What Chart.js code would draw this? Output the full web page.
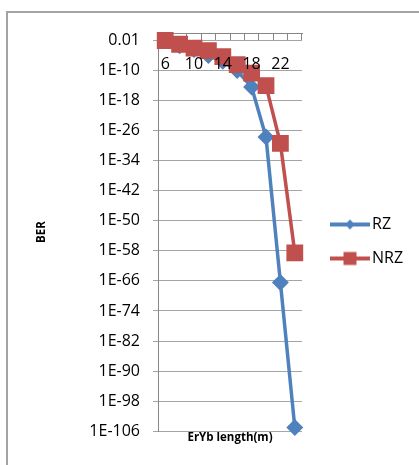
<!DOCTYPE html>
<html>
<head>
<meta charset="utf-8">
<script src="https://cdn.jsdelivr.net/npm/chart.js@4.4.0/dist/chart.umd.min.js"></script>
<style>
    html, body { margin: 0; padding: 0; background: #fff; overflow: hidden; }
    #frame {
        position: absolute; left: 6px; top: 11px; width: 430px; height: 470px;
        border-left: 2px solid #a3a3a3; border-top: 2px solid #a3a3a3;
    }
    #berChart { position: absolute; left: 0; top: 0; }
</style>
</head>
<body>
<div id="frame"></div>
<canvas id="berChart" width="419" height="465"></canvas>
<script>
// ErYb length (m) categories
const lengths = ['6', '8', '10', '12', '14', '16', '18', '20', '22', '24'];

// BER values
const rzBer = [1e-2, 4e-4, 4e-5, 1e-6, 3e-8, 1e-10, 4e-15, 2e-28, 4e-67, 1e-105];
const nrzBer = [1e-2, 1e-3, 1e-4, 2e-5, 5e-7, 4e-9, 2e-11, 1e-14, 4e-30, 3e-59];

// Y axis ticks (every 8 decades)
const yTickValues = [1e-2, 1e-10, 1e-18, 1e-26, 1e-34, 1e-42, 1e-50, 1e-58, 1e-66, 1e-74, 1e-82, 1e-90, 1e-98, 1e-106];
const yTickLabels = ['0.01', '1E-10', '1E-18', '1E-26', '1E-34', '1E-42', '1E-50', '1E-58', '1E-66', '1E-74', '1E-82', '1E-90', '1E-98', '1E-106'];

const RZ_COLOR = '#4F81BD';
const NRZ_COLOR = '#C0504D';
const AXIS_COLOR = '#868686';
const GRID_COLOR = '#a5a5a5';
const FONT = 'Open Sans';

// legend swatch: line with the marker in the middle
function legendSwatch(color, style) {
    const c = document.createElement('canvas');
    c.width = 56;
    c.height = 22;
    const g = c.getContext('2d');
    g.strokeStyle = color;
    g.lineWidth = 4;
    g.beginPath();
    g.moveTo(16, 11);
    g.lineTo(56, 11);
    g.stroke();
    g.fillStyle = color;
    g.beginPath();
    if (style === 'rect') {
        g.rect(29.5, 4.5, 13, 13);
    } else {
        g.moveTo(36, 6);
        g.lineTo(41, 11);
        g.lineTo(36, 16);
        g.lineTo(31, 11);
        g.closePath();
    }
    g.fill();
    return c;
}

document.addEventListener('DOMContentLoaded', function () {
    const ctx = document.getElementById('berChart');

    new Chart(ctx, {
        type: 'line',
        data: {
            labels: lengths,
            datasets: [{
                label: 'RZ',
                data: rzBer,
                borderColor: RZ_COLOR,
                backgroundColor: RZ_COLOR,
                borderWidth: 3.5,
                pointStyle: 'rectRot',
                pointRadius: 6,
                pointHoverRadius: 6,
                tension: 0,
                clip: false,
                order: 2
            }, {
                label: 'NRZ',
                data: nrzBer,
                borderColor: NRZ_COLOR,
                backgroundColor: NRZ_COLOR,
                borderWidth: 3.5,
                pointStyle: 'rect',
                pointRadius: 9.4,
                pointHoverRadius: 9.4,
                tension: 0,
                clip: false,
                order: 1
            }]
        },
        options: {
            responsive: false,
            animation: false,
            layout: {
                padding: { left: 0, top: 33, right: 8, bottom: 15 }
            },
            plugins: {
                tooltip: { enabled: false },
                legend: {
                    position: 'right',
                    maxWidth: 109,
                    labels: {
                        usePointStyle: true,
                        pointStyleWidth: 44,
                        padding: 18,
                        color: '#000',
                        font: { family: FONT, size: 16 },
                        sort: (a, b) => a.datasetIndex - b.datasetIndex,
                        generateLabels: function (chart) {
                            const items = Chart.defaults.plugins.legend.labels.generateLabels(chart);
                            items.forEach(item => {
                                item.pointStyle = item.datasetIndex === 0
                                    ? legendSwatch(RZ_COLOR, 'rectRot')
                                    : legendSwatch(NRZ_COLOR, 'rect');
                            });
                            return items;
                        }
                    }
                }
            },
            scales: {
                x: {
                    type: 'category',
                    position: { y: 1 },
                    offset: true,
                    grid: {
                        offset: true,
                        drawOnChartArea: false,
                        drawTicks: true,
                        tickLength: 6,
                        color: AXIS_COLOR
                    },
                    border: { color: AXIS_COLOR, width: 1 },
                    ticks: {
                        z: 1,
                        autoSkip: false,
                        maxRotation: 0,
                        padding: 16,
                        color: '#000',
                        font: { family: FONT, size: 16 },
                        callback: function (value, index) {
                            return index % 2 === 0 ? this.getLabelForValue(value) : '';
                        }
                    }
                },
                x2: {
                    type: 'category',
                    position: 'bottom',
                    labels: lengths,
                    grid: { display: false, drawTicks: false, tickLength: 0 },
                    border: { display: false },
                    ticks: { display: false },
                    title: {
                        display: true,
                        text: 'ErYb length(m)',
                        color: '#000',
                        font: { family: FONT, size: 11.5, weight: 'bold' },
                        padding: { top: 0, bottom: 5 }
                    }
                },
                y: {
                    type: 'logarithmic',
                    position: 'left',
                    min: 1e-106,
                    max: 1,
                    afterBuildTicks: function (scale) {
                        scale.ticks = yTickValues.map(v => ({ value: v }));
                    },
                    afterFit: function (scale) {
                        scale.width = 158;
                    },
                    grid: {
                        color: GRID_COLOR,
                        tickLength: 5,
                        lineWidth: 1
                    },
                    border: { color: AXIS_COLOR, width: 1 },
                    ticks: {
                        padding: 13,
                        color: '#000',
                        font: { family: FONT, size: 16 },
                        callback: function (value) {
                            return yTickLabels[yTickValues.indexOf(value)];
                        }
                    },
                    title: {
                        display: true,
                        text: 'BER',
                        color: '#000',
                        font: { family: FONT, size: 11.5, weight: 'bold' },
                        padding: { top: 35, bottom: 0 }
                    }
                }
            }
        }
    });
});
</script>
</body>
</html>
